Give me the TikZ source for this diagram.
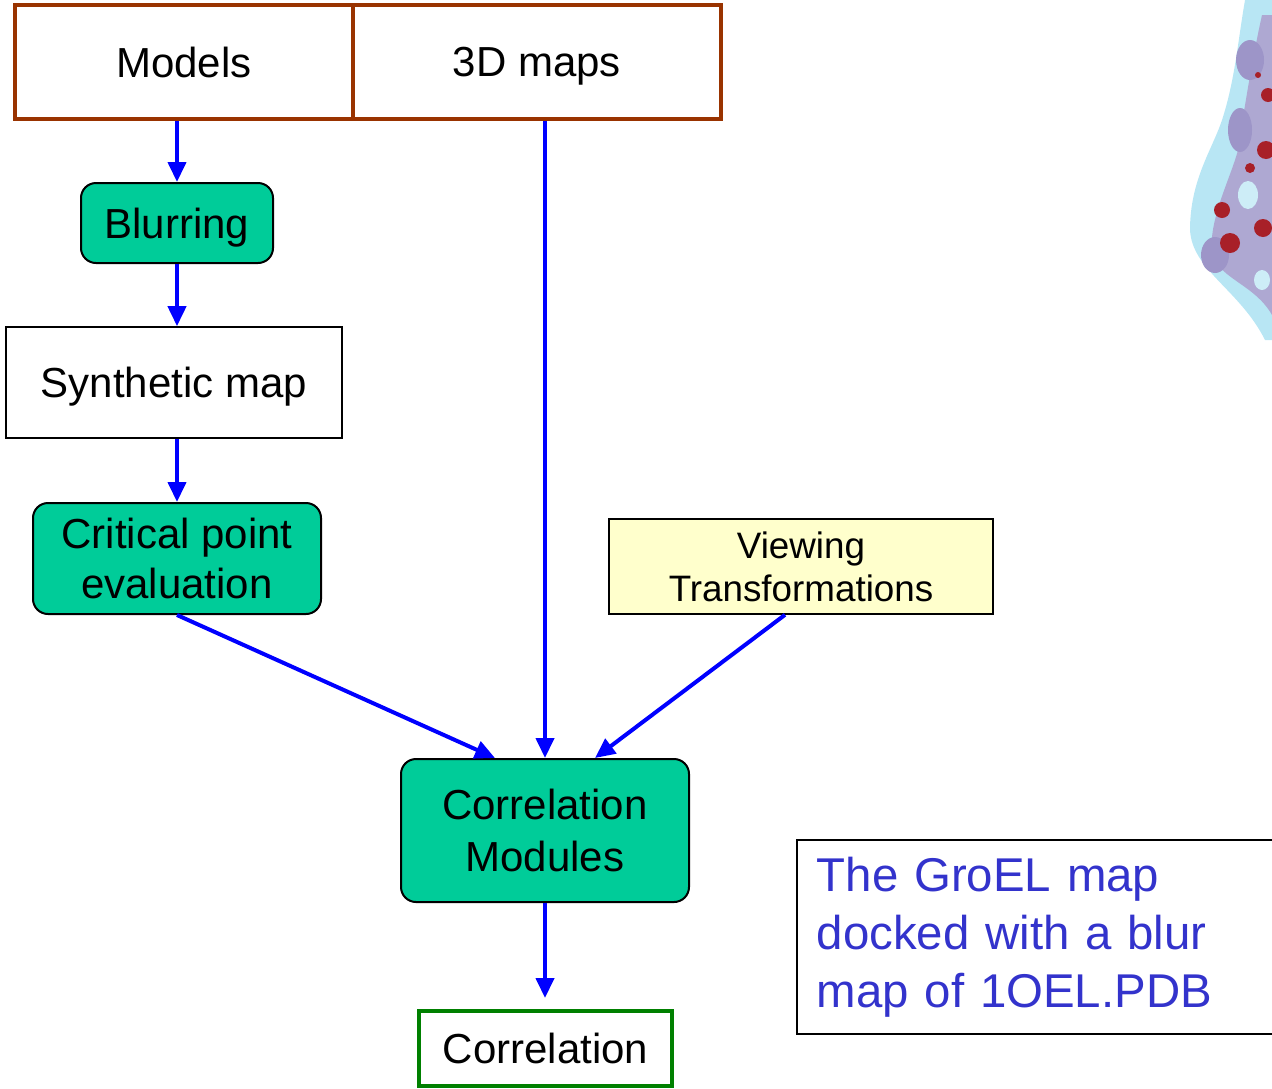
\documentclass[tikz,border=0pt]{standalone}
\usepackage{fontspec}
\setmainfont{Liberation Sans}
\usepackage{xcolor}
\usetikzlibrary{arrows.meta}
\definecolor{rust}{HTML}{993300}
\definecolor{teal}{HTML}{00CC99}
\definecolor{cream}{HTML}{FFFFCC}
\definecolor{notetext}{HTML}{3333CC}
\definecolor{okgreen}{HTML}{008000}
\definecolor{iceblue}{HTML}{B8E6F4}
\definecolor{lilac}{HTML}{8C82BE}
\definecolor{clot}{HTML}{A82028}

\begin{document}
\begin{tikzpicture}[x=0.5pt,y=-0.5pt,>={Triangle[length=10pt,width=9pt]},
      flow/.style={->,draw=blue,line width=2pt},
      input box/.style={draw=rust,line width=2pt,font=\fontsize{21}{25}\selectfont,align=center,text depth=0pt},
      step box/.style={draw=black,line width=1pt,fill=teal,rounded corners=7.5pt,
                       font=\fontsize{21}{25}\selectfont,align=center},
      plain box/.style={draw=black,line width=0.8pt,fill=white,font=\fontsize{21}{25}\selectfont,align=center}]
    \useasboundingbox (0,0) rectangle (1272,1088);

    % density blob at the top right edge
    \fill[iceblue] (1245,0) .. controls (1238,40) and (1235,80) .. (1222,120)
        .. controls (1212,150) and (1190,180) .. (1190,230)
        .. controls (1192,270) and (1240,290) .. (1265,340) -- (1272,340) -- (1272,0) -- cycle;
    \fill[lilac!70] (1262,15) .. controls (1252,60) and (1244,110) .. (1238,150)
        .. controls (1230,180) and (1208,220) .. (1212,255)
        .. controls (1222,280) and (1255,285) .. (1272,315) -- (1272,15) -- cycle;
    \fill[lilac!85] (1250,60) ellipse (14 and 20) (1240,130) ellipse (12 and 22) (1215,255) ellipse (14 and 18);
    \fill[iceblue!70] (1248,195) ellipse (10 and 14) (1262,280) ellipse (8 and 10);
    \fill[clot] (1222,210) circle (8) (1230,243) circle (10) (1263,228) circle (9)
        (1266,150) circle (9) (1268,95) circle (7) (1250,168) circle (5) (1258,75) circle (3);

    \node[input box,minimum width=169pt,minimum height=57pt] (models) at (184,62) {Models};
    \node[input box,minimum width=184pt,minimum height=57pt] (maps) at (537,62) {3D maps};
    \node[step box,text depth=0pt,minimum width=96pt,minimum height=40pt] (blur) at (177,223) {Blurring};
    \node[plain box,text depth=0pt,minimum width=168pt,minimum height=55.5pt] (synth) at (174,382.5)
        {Synthetic map};
    \node[step box,minimum width=144pt,minimum height=55.5pt] (crit) at (177,558.5)
        {Critical point\\evaluation};
    \node[plain box,fill=cream,minimum width=192pt,minimum height=47.5pt,
          font=\fontsize{18.4}{21.5}\selectfont] (view) at (801,566.5) {Viewing\\Transformations};
    \node[step box,minimum width=144pt,minimum height=71.5pt,
          font=\fontsize{21}{26}\selectfont] (corrmod) at (545,830.5) {Correlation\\Modules};
    \node[input box,draw=okgreen,minimum width=126.5pt,minimum height=37.5pt] (corr) at (545.5,1048.5)
        {Correlation};
    \node[draw=black,line width=0.8pt,minimum width=244pt,minimum height=97pt,anchor=north west,
          inner xsep=10pt,inner ysep=6.5pt,text=notetext,align=left,text width=224pt,
          font=\fontsize{23.7}{29}\selectfont] (note)
        at (796,839) {The GroEL map\\docked with a blur\\map of 1OEL.PDB};

    \path[every edge/.append style=flow]
        ([xshift=-3.5pt]models.south) edge (blur.north)
        (blur.south) edge (blur.south |- synth.north)
        ([xshift=1.5pt]synth.south) edge (crit.north)
        (crit.south) edge ([xshift=-25pt]corrmod.north)
        ([xshift=4pt]maps.south) edge (corrmod.north)
        ([xshift=-8pt]view.south) edge ([xshift=25pt]corrmod.north)
        (corrmod.south) edge[shorten >=5.5pt] (corrmod.south |- corr.north);
\end{tikzpicture}
\end{document}
